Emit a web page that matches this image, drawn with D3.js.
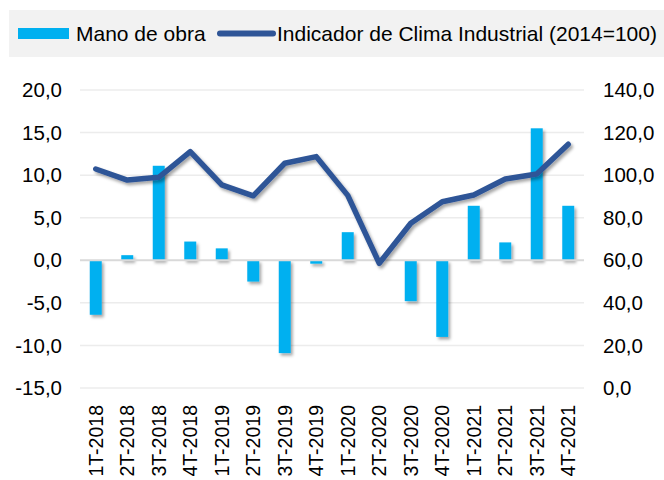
<!DOCTYPE html>
<html>
<head>
<meta charset="utf-8">
<script src="https://cdn.jsdelivr.net/npm/d3@7"></script>
<style>
  body { margin: 0; background: #fff; }
  text { font-family: "Liberation Sans", Arial, sans-serif; fill: #000; }
</style>
</head>
<body>
<div class="canvas"></div>
<script>
// data
var quarters = ["1T-2018","2T-2018","3T-2018","4T-2018","1T-2019","2T-2019","3T-2019","4T-2019",
                "1T-2020","2T-2020","3T-2020","4T-2020","1T-2021","2T-2021","3T-2021","4T-2021"]
var manoObra = [-6.4, 0.6, 11.1, 2.2, 1.4, -2.5, -10.9, -0.4, 3.3, 0.0, -4.8, -9.0, 6.4, 2.1, 15.5, 6.4]
var climaIndustrial = [102.9, 97.7, 99.0, 111.0, 95.4, 90.3, 105.6, 108.7, 90.5, 58.6, 77.4, 87.5, 90.7, 98.2, 100.5, 114.5]
var leftTicks = [20, 15, 10, 5, 0, -5, -10, -15]
var rightTicks = [140, 120, 100, 80, 60, 40, 20, 0]
var legendLabels = ["Mano de obra", "Indicador de Clima Industrial (2014=100)"]

var barColor = "#00B0F0"
var lineColor = "#2F5597"

var svg = d3.select(".canvas").append("svg").attr("width", 664).attr("height", 480)

// soft excel-like shadow
var defs = svg.append("defs")
var f = defs.append("filter").attr("id", "shadow").attr("x", "-50%").attr("y", "-50%").attr("width", "200%").attr("height", "200%")
f.append("feDropShadow").attr("dx", 2).attr("dy", 2.5).attr("stdDeviation", 1.8)
    .attr("flood-color", "#000").attr("flood-opacity", 0.35)

var plot = {left: 80, right: 584, top: 90, bottom: 388}

var x = d3.scaleBand().domain(quarters).range([plot.left, plot.right]).paddingInner(0.62).paddingOuter(0.31)
var yL = d3.scaleLinear().domain([-15, 20]).range([plot.bottom, plot.top])
var yR = d3.scaleLinear().domain([0, 140]).range([plot.bottom, plot.top])
var fmt = function(v) { return d3.format(".1f")(v).replace(".", ",").replace("−", "-") }

// legend
svg.append("rect").attr("x", 9).attr("y", 10).attr("width", 660).attr("height", 47).attr("fill", "#f2f2f2")
svg.append("rect").attr("x", 18).attr("y", 28).attr("width", 51).attr("height", 11).attr("fill", barColor)
svg.append("text").attr("x", 76).attr("y", 41).attr("font-size", 21).text(legendLabels[0])
svg.append("line").attr("x1", 220).attr("x2", 273).attr("y1", 33.5).attr("y2", 33.5)
    .attr("stroke", lineColor).attr("stroke-width", 6).attr("stroke-linecap", "round")
svg.append("text").attr("x", 277).attr("y", 41).attr("font-size", 21).text(legendLabels[1])

// gridlines
svg.append("g").selectAll("line").data(leftTicks.filter(function(d) { return d != 0 })).join("line")
    .attr("x1", plot.left).attr("x2", plot.right)
    .attr("y1", function(d) { return yL(d) }).attr("y2", function(d) { return yL(d) })
    .attr("stroke", "#ececec").attr("stroke-width", 1.5)

// left axis labels
svg.append("g").selectAll("text").data(leftTicks).join("text")
    .attr("x", 62).attr("y", function(d) { return yL(d) }).attr("dy", "0.35em")
    .attr("text-anchor", "end").attr("font-size", 20.5).text(fmt)

// right axis labels
svg.append("g").selectAll("text").data(rightTicks).join("text")
    .attr("x", 603).attr("y", function(d) { return yR(d) }).attr("dy", "0.35em")
    .attr("font-size", 20.5).text(fmt)

// bars
svg.append("g").attr("filter", "url(#shadow)").selectAll("rect").data(manoObra).join("rect")
    .attr("x", function(d, i) { return x(quarters[i]) })
    .attr("width", x.bandwidth())
    .attr("y", function(d) { return yL(Math.max(0, d)) })
    .attr("height", function(d) { return Math.abs(yL(d) - yL(0)) })
    .attr("fill", barColor)

// zero line
svg.append("line").attr("x1", plot.left).attr("x2", plot.right)
    .attr("y1", yL(0)).attr("y2", yL(0))
    .attr("stroke", "#d9d9d9").attr("stroke-width", 2)

// line series
var line = d3.line()
    .x(function(d, i) { return x(quarters[i]) + x.bandwidth() / 2 })
    .y(function(d) { return yR(d) })
svg.append("path").datum(climaIndustrial)
    .attr("d", line).attr("fill", "none")
    .attr("stroke", lineColor).attr("stroke-width", 5.5)
    .attr("stroke-linejoin", "round").attr("stroke-linecap", "round")
    .attr("filter", "url(#shadow)")

// x labels
svg.append("g").selectAll("text").data(quarters).join("text")
    .attr("transform", function(d) { return "translate(" + (x(d) + x.bandwidth() / 2) + ",405) rotate(-90)" })
    .attr("dy", "0.35em").attr("text-anchor", "end").attr("font-size", 19.5)
    .text(function(d) { return d })
</script>
</body>
</html>
